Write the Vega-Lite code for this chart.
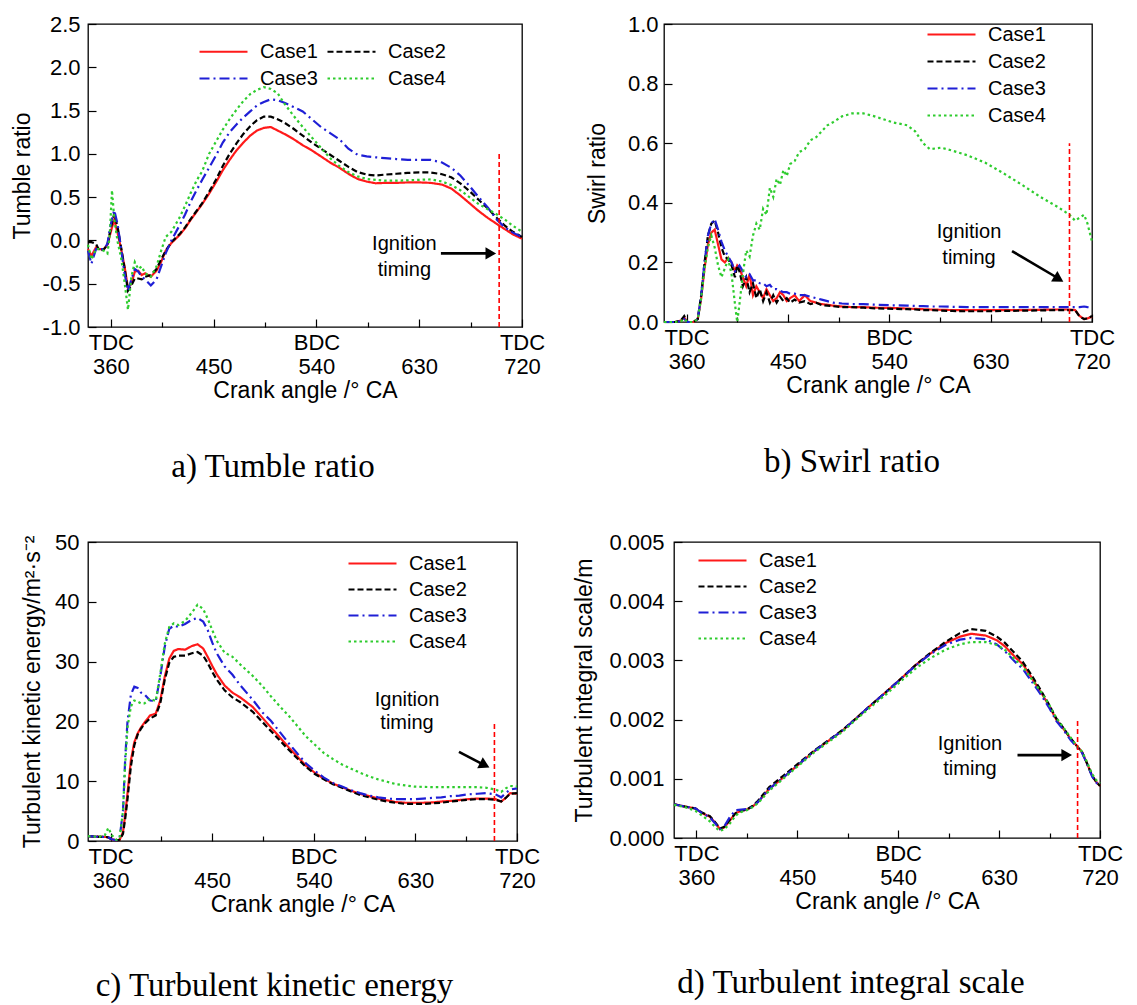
{
  "$schema": "https://vega.github.io/schema/vega-lite/v6.json",
  "background": "white",
  "padding": {"left": 10, "top": 12, "right": 0, "bottom": 0},
  "config": {
    "font": "Liberation Sans",
    "view": {"stroke": "black", "strokeWidth": 1.3},
    "axis": {"labelFont": "Liberation Sans", "labelFontSize": 22, "labelColor": "black", "titleFont": "Liberation Sans", "titleFontSize": 23, "titleFontWeight": "normal", "titleColor": "black", "domain": false, "grid": false, "tickColor": "black", "tickWidth": 1.2, "labelOverlap": false, "labelFlush": false},
    "legend": {"labelFont": "Liberation Sans", "labelFontSize": 20, "labelColor": "black"},
    "title": {"font": "Liberation Serif", "fontSize": 33, "fontWeight": "normal", "color": "black", "orient": "bottom", "anchor": "middle", "offset": 49},
    "text": {"font": "Liberation Sans", "fontSize": 20, "color": "black"}
  },
  "bounds": "flush",
  "spacing": 518,
  "resolve": {"scale": {"color": "independent", "strokeDash": "independent"}, "legend": {"color": "independent", "strokeDash": "independent"}},
  "vconcat": [
    {
      "bounds": "flush",
      "spacing": 142,
      "resolve": {"scale": {"color": "independent", "strokeDash": "independent"}, "legend": {"color": "independent", "strokeDash": "independent"}},
      "hconcat": [
        {
          "width": 434, "height": 303,
          "title": {"text": "a) Tumble ratio", "dx": -32},
          "layer": [
            {
              "data": {"values": [
                {"ca":340,"Case1":-0.10,"Case2":-0.02,"Case3":-0.12,"Case4":-0.05},
                {"ca":343,"Case1":-0.18,"Case2":-0.02,"Case3":-0.27,"Case4":-0.22},
                {"ca":347,"Case1":-0.08,"Case2":-0.04,"Case3":-0.10,"Case4":-0.10},
                {"ca":350,"Case1":-0.10,"Case2":-0.12,"Case3":-0.10,"Case4":-0.10},
                {"ca":354,"Case1":-0.10,"Case2":-0.10,"Case3":-0.10,"Case4":-0.12},
                {"ca":357,"Case1":-0.05,"Case2":-0.05,"Case3":-0.04,"Case4":-0.15},
                {"ca":359,"Case1":0.05,"Case2":0.08,"Case3":0.12,"Case4":0.05},
                {"ca":361,"Case1":0.15,"Case2":0.20,"Case3":0.25,"Case4":0.58},
                {"ca":363,"Case1":0.24,"Case2":0.31,"Case3":0.35,"Case4":0.25},
                {"ca":366,"Case1":0.08,"Case2":0.15,"Case3":0.18,"Case4":-0.02},
                {"ca":369,"Case1":-0.10,"Case2":-0.08,"Case3":-0.10,"Case4":-0.20},
                {"ca":372,"Case1":-0.30,"Case2":-0.32,"Case3":-0.38,"Case4":-0.48},
                {"ca":375,"Case1":-0.55,"Case2":-0.58,"Case3":-0.58,"Case4":-0.80},
                {"ca":378,"Case1":-0.50,"Case2":-0.52,"Case3":-0.45,"Case4":-0.42},
                {"ca":381,"Case1":-0.36,"Case2":-0.44,"Case3":-0.33,"Case4":-0.25},
                {"ca":384,"Case1":-0.35,"Case2":-0.44,"Case3":-0.36,"Case4":-0.33},
                {"ca":387,"Case1":-0.40,"Case2":-0.45,"Case3":-0.42,"Case4":-0.30},
                {"ca":390,"Case1":-0.38,"Case2":-0.42,"Case3":-0.45,"Case4":-0.38},
                {"ca":395,"Case1":-0.42,"Case2":-0.40,"Case3":-0.52,"Case4":-0.42},
                {"ca":400,"Case1":-0.35,"Case2":-0.33,"Case3":-0.45,"Case4":-0.30},
                {"ca":404,"Case1":-0.25,"Case2":-0.22,"Case3":-0.30,"Case4":-0.12},
                {"ca":408,"Case1":-0.12,"Case2":-0.12,"Case3":-0.15,"Case4":0.04},
                {"ca":413,"Case1":-0.03,"Case2":-0.02,"Case3":0.00,"Case4":0.10},
                {"ca":420,"Case1":0.06,"Case2":0.07,"Case3":0.17,"Case4":0.26},
                {"ca":425,"Case1":0.14,"Case2":0.15,"Case3":0.30,"Case4":0.40},
                {"ca":430,"Case1":0.24,"Case2":0.25,"Case3":0.45,"Case4":0.55},
                {"ca":435,"Case1":0.33,"Case2":0.34,"Case3":0.58,"Case4":0.69},
                {"ca":440,"Case1":0.42,"Case2":0.43,"Case3":0.70,"Case4":0.80},
                {"ca":446,"Case1":0.54,"Case2":0.56,"Case3":0.84,"Case4":1.00},
                {"ca":452,"Case1":0.67,"Case2":0.70,"Case3":0.98,"Case4":1.14},
                {"ca":458,"Case1":0.81,"Case2":0.86,"Case3":1.13,"Case4":1.28},
                {"ca":464,"Case1":0.93,"Case2":1.00,"Case3":1.25,"Case4":1.40},
                {"ca":470,"Case1":1.04,"Case2":1.12,"Case3":1.34,"Case4":1.51},
                {"ca":476,"Case1":1.13,"Case2":1.23,"Case3":1.42,"Case4":1.61},
                {"ca":482,"Case1":1.21,"Case2":1.32,"Case3":1.49,"Case4":1.69},
                {"ca":488,"Case1":1.27,"Case2":1.39,"Case3":1.56,"Case4":1.74},
                {"ca":494,"Case1":1.30,"Case2":1.43,"Case3":1.60,"Case4":1.77},
                {"ca":500,"Case1":1.31,"Case2":1.43,"Case3":1.63,"Case4":1.75},
                {"ca":506,"Case1":1.27,"Case2":1.40,"Case3":1.62,"Case4":1.70},
                {"ca":512,"Case1":1.23,"Case2":1.36,"Case3":1.59,"Case4":1.58},
                {"ca":520,"Case1":1.17,"Case2":1.29,"Case3":1.54,"Case4":1.44},
                {"ca":528,"Case1":1.10,"Case2":1.21,"Case3":1.49,"Case4":1.31},
                {"ca":536,"Case1":1.04,"Case2":1.13,"Case3":1.40,"Case4":1.19},
                {"ca":544,"Case1":0.97,"Case2":1.06,"Case3":1.31,"Case4":1.07},
                {"ca":552,"Case1":0.90,"Case2":0.99,"Case3":1.24,"Case4":0.95},
                {"ca":560,"Case1":0.84,"Case2":0.92,"Case3":1.17,"Case4":0.86},
                {"ca":568,"Case1":0.77,"Case2":0.85,"Case3":1.06,"Case4":0.79},
                {"ca":576,"Case1":0.71,"Case2":0.79,"Case3":0.99,"Case4":0.74},
                {"ca":584,"Case1":0.68,"Case2":0.76,"Case3":0.97,"Case4":0.71},
                {"ca":592,"Case1":0.66,"Case2":0.75,"Case3":0.96,"Case4":0.70},
                {"ca":600,"Case1":0.665,"Case2":0.76,"Case3":0.95,"Case4":0.69},
                {"ca":610,"Case1":0.665,"Case2":0.77,"Case3":0.94,"Case4":0.69},
                {"ca":620,"Case1":0.67,"Case2":0.78,"Case3":0.93,"Case4":0.695},
                {"ca":630,"Case1":0.67,"Case2":0.785,"Case3":0.93,"Case4":0.70},
                {"ca":640,"Case1":0.665,"Case2":0.785,"Case3":0.93,"Case4":0.705},
                {"ca":650,"Case1":0.645,"Case2":0.765,"Case3":0.90,"Case4":0.68},
                {"ca":658,"Case1":0.60,"Case2":0.73,"Case3":0.84,"Case4":0.64},
                {"ca":666,"Case1":0.52,"Case2":0.66,"Case3":0.75,"Case4":0.58},
                {"ca":674,"Case1":0.43,"Case2":0.57,"Case3":0.63,"Case4":0.50},
                {"ca":682,"Case1":0.34,"Case2":0.47,"Case3":0.50,"Case4":0.42},
                {"ca":690,"Case1":0.26,"Case2":0.37,"Case3":0.38,"Case4":0.36},
                {"ca":698,"Case1":0.19,"Case2":0.26,"Case3":0.24,"Case4":0.30},
                {"ca":705,"Case1":0.13,"Case2":0.17,"Case3":0.15,"Case4":0.24},
                {"ca":712,"Case1":0.07,"Case2":0.10,"Case3":0.09,"Case4":0.17},
                {"ca":720,"Case1":0.02,"Case2":0.04,"Case3":0.04,"Case4":0.10}
              ]},
              "transform": [{"fold": ["Case1","Case2","Case3","Case4"], "as": ["case","v"]}],
              "mark": {"type": "line", "strokeWidth": 2.2},
              "encoding": {
                "x": {"field": "ca", "type": "quantitative", "scale": {"domain": [340,720], "nice": false, "zero": false},
                  "axis": {"title": "Crank angle /° CA", "values": [360,405,450,495,540,585,630,675,720],
                    "labelExpr": "datum.value == 360 || datum.value == 720 ? ['TDC', datum.label] : datum.value == 540 ? ['BDC', datum.label] : datum.value % 90 == 0 ? ['', datum.label] : ''",
                    "tickSize": {"condition": {"test": "datum.value % 90 == 0", "value": -8}, "value": -5},
                    "labelPadding": 13, "labelLineHeight": 24, "labelBaseline": "top", "titlePadding": 2}},
                "y": {"field": "v", "type": "quantitative", "scale": {"domain": [-1,2.5], "nice": false, "zero": false},
                  "axis": {"title": "Tumble ratio", "values": [-1,-0.75,-0.5,-0.25,0,0.25,0.5,0.75,1,1.25,1.5,1.75,2,2.25,2.5],
                    "labelExpr": "(datum.value * 2) % 1 == 0 ? replace(format(datum.value, '.1f'), '\u2212', '-') : ''",
                    "tickSize": {"condition": {"test": "(datum.value * 2) % 1 == 0", "value": -8}, "value": -5},
                    "labelPadding": 16, "titlePadding": 8}},
                "color": {"field": "case", "type": "nominal", "scale": {"domain": ["Case1","Case2","Case3","Case4"], "range": ["#ff1a1a","#000000","#1f1fd6","#2ecc2e"]},
                  "legend": {"orient": "none", "legendX": 122, "legendY": 14, "columns": 2, "direction": "horizontal", "title": null, "symbolType": "M-2,0H2", "symbolSize": 576, "labelOffset": 23, "columnPadding": 5, "rowPadding": 3, "symbolStrokeWidth": 2.2}},
                "strokeDash": {"field": "case", "type": "nominal", "scale": {"domain": ["Case1","Case2","Case3","Case4"], "range": [[1,0],[6,3],[10,4,2,4],[2.5,3]]},
                  "legend": {"orient": "none", "legendX": 122, "legendY": 14, "columns": 2, "direction": "horizontal", "title": null, "symbolType": "M-2,0H2", "symbolSize": 576, "labelOffset": 23, "columnPadding": 5, "rowPadding": 3, "symbolStrokeWidth": 2.2}}
              }
            },
            {
              "data": {"values": [{"ca": 700, "v": -1, "v2": 1.0}]},
              "mark": {"type": "rule", "color": "#ff0000", "strokeDash": [5,3], "strokeWidth": 1.6},
              "encoding": {"x": {"field": "ca", "type": "quantitative"}, "y": {"field": "v", "type": "quantitative"}, "y2": {"field": "v2"}}
            },
            {
              "data": {"values": [{"ca": 649, "v": -0.15, "ca2": 690, "v2": -0.15}]},
              "mark": {"type": "rule", "color": "black", "strokeWidth": 2.6},
              "encoding": {"x": {"field": "ca", "type": "quantitative"}, "y": {"field": "v", "type": "quantitative"}, "x2": {"field": "ca2"}, "y2": {"field": "v2"}}
            },
            {
              "data": {"values": [{"ca": 692.7, "v": -0.15}]},
              "mark": {"type": "point", "shape": "triangle-right", "filled": true, "color": "black", "size": 150, "opacity": 1},
              "encoding": {"x": {"field": "ca", "type": "quantitative"}, "y": {"field": "v", "type": "quantitative"}}
            },
            {
              "data": {"values": [{"ca": 617, "v": -0.04, "t": "Ignition"}, {"ca": 617, "v": -0.34, "t": "timing"}]},
              "mark": {"type": "text", "align": "center", "baseline": "middle"},
              "encoding": {"x": {"field": "ca", "type": "quantitative"}, "y": {"field": "v", "type": "quantitative"}, "text": {"field": "t"}}
            }
          ]
        },
        {
          "width": 428, "height": 298,
          "title": {"text": "b) Swirl ratio", "dx": -26},
          "layer": [
            {
              "data": {"values": [
                {"ca":340,"Case1":0,"Case2":0,"Case3":0,"Case4":0},
                {"ca":350,"Case1":0,"Case2":0,"Case3":0,"Case4":0},
                {"ca":355,"Case1":0.005,"Case2":0.005,"Case3":0.003,"Case4":0.003},
                {"ca":358,"Case1":0.015,"Case2":0.02,"Case3":0.01,"Case4":0.01},
                {"ca":361,"Case1":0,"Case2":0,"Case3":0,"Case4":0},
                {"ca":366,"Case1":0,"Case2":0,"Case3":0,"Case4":0},
                {"ca":370,"Case1":0.01,"Case2":0.01,"Case3":0.01,"Case4":0.01},
                {"ca":373,"Case1":0.08,"Case2":0.09,"Case3":0.09,"Case4":0.08},
                {"ca":376,"Case1":0.18,"Case2":0.20,"Case3":0.20,"Case4":0.18},
                {"ca":379,"Case1":0.26,"Case2":0.29,"Case3":0.29,"Case4":0.25},
                {"ca":382,"Case1":0.30,"Case2":0.33,"Case3":0.33,"Case4":0.29},
                {"ca":385,"Case1":0.31,"Case2":0.34,"Case3":0.345,"Case4":0.25},
                {"ca":388,"Case1":0.26,"Case2":0.30,"Case3":0.31,"Case4":0.19},
                {"ca":391,"Case1":0.21,"Case2":0.25,"Case3":0.27,"Case4":0.15},
                {"ca":394,"Case1":0.20,"Case2":0.22,"Case3":0.24,"Case4":0.18},
                {"ca":397,"Case1":0.215,"Case2":0.21,"Case3":0.22,"Case4":0.21},
                {"ca":400,"Case1":0.20,"Case2":0.19,"Case3":0.20,"Case4":0.16},
                {"ca":403,"Case1":0.17,"Case2":0.15,"Case3":0.17,"Case4":0.06},
                {"ca":405,"Case1":0.19,"Case2":0.19,"Case3":0.18,"Case4":0.0},
                {"ca":407,"Case1":0.18,"Case2":0.17,"Case3":0.19,"Case4":0.06},
                {"ca":410,"Case1":0.15,"Case2":0.12,"Case3":0.17,"Case4":0.16},
                {"ca":413,"Case1":0.12,"Case2":0.15,"Case3":0.15,"Case4":0.24},
                {"ca":416,"Case1":0.16,"Case2":0.10,"Case3":0.16,"Case4":0.22},
                {"ca":419,"Case1":0.09,"Case2":0.13,"Case3":0.14,"Case4":0.29},
                {"ca":422,"Case1":0.12,"Case2":0.08,"Case3":0.14,"Case4":0.33},
                {"ca":425,"Case1":0.10,"Case2":0.11,"Case3":0.13,"Case4":0.31},
                {"ca":428,"Case1":0.08,"Case2":0.07,"Case3":0.13,"Case4":0.38},
                {"ca":431,"Case1":0.11,"Case2":0.10,"Case3":0.12,"Case4":0.36},
                {"ca":434,"Case1":0.09,"Case2":0.065,"Case3":0.125,"Case4":0.45},
                {"ca":437,"Case1":0.07,"Case2":0.09,"Case3":0.11,"Case4":0.42},
                {"ca":440,"Case1":0.08,"Case2":0.065,"Case3":0.11,"Case4":0.48},
                {"ca":443,"Case1":0.10,"Case2":0.085,"Case3":0.105,"Case4":0.46},
                {"ca":446,"Case1":0.09,"Case2":0.07,"Case3":0.10,"Case4":0.51},
                {"ca":449,"Case1":0.07,"Case2":0.08,"Case3":0.10,"Case4":0.49},
                {"ca":452,"Case1":0.08,"Case2":0.065,"Case3":0.095,"Case4":0.53},
                {"ca":456,"Case1":0.09,"Case2":0.075,"Case3":0.095,"Case4":0.54},
                {"ca":460,"Case1":0.07,"Case2":0.065,"Case3":0.09,"Case4":0.57},
                {"ca":465,"Case1":0.09,"Case2":0.07,"Case3":0.09,"Case4":0.58},
                {"ca":470,"Case1":0.07,"Case2":0.06,"Case3":0.085,"Case4":0.61},
                {"ca":475,"Case1":0.065,"Case2":0.065,"Case3":0.08,"Case4":0.62},
                {"ca":480,"Case1":0.06,"Case2":0.057,"Case3":0.075,"Case4":0.64},
                {"ca":485,"Case1":0.058,"Case2":0.055,"Case3":0.07,"Case4":0.66},
                {"ca":490,"Case1":0.055,"Case2":0.053,"Case3":0.065,"Case4":0.67},
                {"ca":498,"Case1":0.052,"Case2":0.05,"Case3":0.062,"Case4":0.69},
                {"ca":507,"Case1":0.05,"Case2":0.05,"Case3":0.06,"Case4":0.70},
                {"ca":517,"Case1":0.05,"Case2":0.048,"Case3":0.06,"Case4":0.70},
                {"ca":527,"Case1":0.048,"Case2":0.046,"Case3":0.058,"Case4":0.69},
                {"ca":543,"Case1":0.047,"Case2":0.044,"Case3":0.056,"Case4":0.67},
                {"ca":556,"Case1":0.045,"Case2":0.043,"Case3":0.055,"Case4":0.66},
                {"ca":563,"Case1":0.044,"Case2":0.042,"Case3":0.054,"Case4":0.64},
                {"ca":570,"Case1":0.043,"Case2":0.04,"Case3":0.053,"Case4":0.60},
                {"ca":576,"Case1":0.042,"Case2":0.04,"Case3":0.052,"Case4":0.58},
                {"ca":586,"Case1":0.041,"Case2":0.038,"Case3":0.052,"Case4":0.585},
                {"ca":596,"Case1":0.04,"Case2":0.037,"Case3":0.051,"Case4":0.575},
                {"ca":609,"Case1":0.04,"Case2":0.036,"Case3":0.05,"Case4":0.56},
                {"ca":625,"Case1":0.04,"Case2":0.036,"Case3":0.05,"Case4":0.535},
                {"ca":641,"Case1":0.04,"Case2":0.037,"Case3":0.05,"Case4":0.50},
                {"ca":658,"Case1":0.04,"Case2":0.038,"Case3":0.05,"Case4":0.46},
                {"ca":674,"Case1":0.041,"Case2":0.039,"Case3":0.05,"Case4":0.42},
                {"ca":690,"Case1":0.042,"Case2":0.04,"Case3":0.05,"Case4":0.385},
                {"ca":700,"Case1":0.042,"Case2":0.04,"Case3":0.05,"Case4":0.36},
                {"ca":705,"Case1":0.04,"Case2":0.04,"Case3":0.05,"Case4":0.34},
                {"ca":709,"Case1":0.02,"Case2":0.018,"Case3":0.05,"Case4":0.35},
                {"ca":713,"Case1":0.01,"Case2":0.01,"Case3":0.052,"Case4":0.36},
                {"ca":716,"Case1":0.012,"Case2":0.012,"Case3":0.05,"Case4":0.33},
                {"ca":720,"Case1":0.018,"Case2":0.02,"Case3":0.048,"Case4":0.27}
              ]},
              "transform": [{"fold": ["Case1","Case2","Case3","Case4"], "as": ["case","v"]}],
              "mark": {"type": "line", "strokeWidth": 2.2},
              "encoding": {
                "x": {"field": "ca", "type": "quantitative", "scale": {"domain": [340,720], "nice": false, "zero": false},
                  "axis": {"title": "Crank angle /° CA", "values": [360,405,450,495,540,585,630,675,720],
                    "labelExpr": "datum.value == 360 || datum.value == 720 ? ['TDC', datum.label] : datum.value == 540 ? ['BDC', datum.label] : datum.value % 90 == 0 ? ['', datum.label] : ''",
                    "tickSize": {"condition": {"test": "datum.value % 90 == 0", "value": -8}, "value": -5},
                    "labelPadding": 13, "labelLineHeight": 24, "labelBaseline": "top", "titlePadding": 2}},
                "y": {"field": "v", "type": "quantitative", "scale": {"domain": [0,1], "nice": false},
                  "axis": {"title": "Swirl ratio", "values": [0,0.1,0.2,0.3,0.4,0.5,0.6,0.7,0.8,0.9,1],
                    "labelExpr": "abs(datum.value * 5 - round(datum.value * 5)) < 0.001 ? format(datum.value, '.1f') : ''",
                    "tickSize": {"condition": {"test": "abs(datum.value * 5 - round(datum.value * 5)) < 0.001", "value": -8}, "value": -5},
                    "labelPadding": 14, "titlePadding": 18}},
                "color": {"field": "case", "type": "nominal", "scale": {"domain": ["Case1","Case2","Case3","Case4"], "range": ["#ff1a1a","#000000","#1f1fd6","#2ecc2e"]},
                  "legend": {"orient": "none", "legendX": 274, "legendY": -3, "columns": 1, "title": null, "symbolType": "M-2,0H2", "symbolSize": 576, "labelOffset": 23, "rowPadding": 3, "symbolStrokeWidth": 2.2}},
                "strokeDash": {"field": "case", "type": "nominal", "scale": {"domain": ["Case1","Case2","Case3","Case4"], "range": [[1,0],[6,3],[10,4,2,4],[2.5,3]]},
                  "legend": {"orient": "none", "legendX": 274, "legendY": -3, "columns": 1, "title": null, "symbolType": "M-2,0H2", "symbolSize": 576, "labelOffset": 23, "rowPadding": 3, "symbolStrokeWidth": 2.2}}
              }
            },
            {
              "data": {"values": [{"ca": 700, "v": 0, "v2": 0.6}]},
              "mark": {"type": "rule", "color": "#ff0000", "strokeDash": [5,3], "strokeWidth": 1.6},
              "encoding": {"x": {"field": "ca", "type": "quantitative"}, "y": {"field": "v", "type": "quantitative"}, "y2": {"field": "v2"}}
            },
            {
              "data": {"values": [{"ca": 649, "v": 0.238, "ca2": 688, "v2": 0.151}]},
              "mark": {"type": "rule", "color": "black", "strokeWidth": 2.6},
              "encoding": {"x": {"field": "ca", "type": "quantitative"}, "y": {"field": "v", "type": "quantitative"}, "x2": {"field": "ca2"}, "y2": {"field": "v2"}}
            },
            {
              "data": {"values": [{"ca": 690.5, "v": 0.1446}]},
              "mark": {"type": "point", "shape": "triangle-right", "filled": true, "color": "black", "size": 150, "opacity": 1, "angle": 31},
              "encoding": {"x": {"field": "ca", "type": "quantitative"}, "y": {"field": "v", "type": "quantitative"}}
            },
            {
              "data": {"values": [{"ca": 610.8, "v": 0.302, "t": "Ignition"}, {"ca": 610.8, "v": 0.215, "t": "timing"}]},
              "mark": {"type": "text", "align": "center", "baseline": "middle"},
              "encoding": {"x": {"field": "ca", "type": "quantitative"}, "y": {"field": "v", "type": "quantitative"}, "text": {"field": "t"}}
            }
          ]
        }
      ]
    },
    {
      "bounds": "flush",
      "spacing": 157,
      "resolve": {"scale": {"color": "independent", "strokeDash": "independent"}, "legend": {"color": "independent", "strokeDash": "independent"}},
      "hconcat": [
        {
          "width": 429, "height": 299,
          "title": {"text": "c) Turbulent kinetic energy", "dx": -28, "offset": 54},
          "layer": [
            {
              "data": {"values": [
                {"ca":340,"Case1":0.8,"Case2":0.8,"Case3":0.8,"Case4":0.8},
                {"ca":350,"Case1":0.7,"Case2":0.7,"Case3":0.7,"Case4":0.7},
                {"ca":355,"Case1":0.7,"Case2":0.7,"Case3":0.7,"Case4":1.0},
                {"ca":358,"Case1":0.6,"Case2":0.6,"Case3":0.6,"Case4":2.2},
                {"ca":361,"Case1":0.3,"Case2":0.3,"Case3":0.3,"Case4":1.0},
                {"ca":365,"Case1":0.1,"Case2":0.1,"Case3":0.1,"Case4":0.2},
                {"ca":368,"Case1":0.2,"Case2":0.2,"Case3":0.5,"Case4":0.5},
                {"ca":371,"Case1":1.5,"Case2":1.2,"Case3":5,"Case4":5},
                {"ca":373,"Case1":4.5,"Case2":3.8,"Case3":14,"Case4":13},
                {"ca":375,"Case1":8,"Case2":7,"Case3":20,"Case4":19},
                {"ca":378,"Case1":13.5,"Case2":12.5,"Case3":24.5,"Case4":22.5},
                {"ca":381,"Case1":16.5,"Case2":16,"Case3":25.8,"Case4":23.5},
                {"ca":384,"Case1":18,"Case2":17.8,"Case3":25.6,"Case4":23.3},
                {"ca":387,"Case1":19,"Case2":18.8,"Case3":24.8,"Case4":23},
                {"ca":390,"Case1":19.8,"Case2":19.6,"Case3":24.5,"Case4":23},
                {"ca":395,"Case1":21,"Case2":20.5,"Case3":23.5,"Case4":23.8},
                {"ca":400,"Case1":21.3,"Case2":21,"Case3":23.4,"Case4":23.4},
                {"ca":404,"Case1":23.5,"Case2":23,"Case3":27.5,"Case4":28},
                {"ca":408,"Case1":27.5,"Case2":27,"Case3":32.5,"Case4":33},
                {"ca":412,"Case1":30.5,"Case2":29.8,"Case3":35.5,"Case4":35.8},
                {"ca":416,"Case1":31.8,"Case2":30.8,"Case3":36,"Case4":36.4},
                {"ca":420,"Case1":32.1,"Case2":31,"Case3":35.8,"Case4":36.1},
                {"ca":426,"Case1":32,"Case2":31,"Case3":36.3,"Case4":36.8},
                {"ca":432,"Case1":32.6,"Case2":31.4,"Case3":37,"Case4":38.2},
                {"ca":437,"Case1":32.9,"Case2":31.6,"Case3":37.3,"Case4":39.5},
                {"ca":442,"Case1":32.2,"Case2":31,"Case3":36.7,"Case4":38.8},
                {"ca":446,"Case1":30.8,"Case2":29.8,"Case3":35.3,"Case4":37.2},
                {"ca":450,"Case1":29.3,"Case2":28.3,"Case3":33.2,"Case4":35.3},
                {"ca":454,"Case1":27.9,"Case2":27,"Case3":31.4,"Case4":33.5},
                {"ca":461,"Case1":26,"Case2":25.2,"Case3":29.2,"Case4":31.5},
                {"ca":468,"Case1":24.8,"Case2":24,"Case3":27.8,"Case4":30.8},
                {"ca":475,"Case1":24,"Case2":23.2,"Case3":26,"Case4":29.5},
                {"ca":486,"Case1":22.4,"Case2":21.6,"Case3":23.6,"Case4":27.6},
                {"ca":495,"Case1":20.5,"Case2":19.8,"Case3":21.4,"Case4":25.8},
                {"ca":502,"Case1":19,"Case2":18.4,"Case3":20.1,"Case4":24.2},
                {"ca":510,"Case1":17.3,"Case2":16.8,"Case3":18.2,"Case4":22.5},
                {"ca":518,"Case1":15.6,"Case2":15.2,"Case3":16.3,"Case4":20.9},
                {"ca":526,"Case1":14,"Case2":13.7,"Case3":14.5,"Case4":19.1},
                {"ca":533,"Case1":12.6,"Case2":12.4,"Case3":13,"Case4":17.5},
                {"ca":541,"Case1":11.4,"Case2":11.2,"Case3":11.7,"Case4":16.1},
                {"ca":549,"Case1":10.4,"Case2":10.3,"Case3":10.6,"Case4":14.7},
                {"ca":557,"Case1":9.6,"Case2":9.5,"Case3":9.7,"Case4":13.7},
                {"ca":565,"Case1":9,"Case2":8.9,"Case3":9.1,"Case4":12.8},
                {"ca":573,"Case1":8.4,"Case2":8.3,"Case3":8.5,"Case4":12.1},
                {"ca":581,"Case1":7.9,"Case2":7.7,"Case3":8,"Case4":11.4},
                {"ca":589,"Case1":7.5,"Case2":7.3,"Case3":7.6,"Case4":10.8},
                {"ca":597,"Case1":7.1,"Case2":6.9,"Case3":7.3,"Case4":10.3},
                {"ca":605,"Case1":6.8,"Case2":6.6,"Case3":7.1,"Case4":9.9},
                {"ca":613,"Case1":6.5,"Case2":6.4,"Case3":7,"Case4":9.5},
                {"ca":621,"Case1":6.4,"Case2":6.2,"Case3":7,"Case4":9.3},
                {"ca":629,"Case1":6.4,"Case2":6.2,"Case3":7,"Case4":9.1},
                {"ca":637,"Case1":6.4,"Case2":6.2,"Case3":7.1,"Case4":9.05},
                {"ca":645,"Case1":6.45,"Case2":6.3,"Case3":7.2,"Case4":9},
                {"ca":653,"Case1":6.6,"Case2":6.4,"Case3":7.3,"Case4":9},
                {"ca":661,"Case1":6.7,"Case2":6.6,"Case3":7.5,"Case4":9},
                {"ca":669,"Case1":6.85,"Case2":6.75,"Case3":7.6,"Case4":9},
                {"ca":677,"Case1":7,"Case2":6.9,"Case3":7.8,"Case4":9},
                {"ca":685,"Case1":7.1,"Case2":7,"Case3":7.9,"Case4":9},
                {"ca":693,"Case1":7.1,"Case2":7,"Case3":8,"Case4":8.9},
                {"ca":701,"Case1":7,"Case2":6.9,"Case3":7.8,"Case4":8.6},
                {"ca":706,"Case1":6.6,"Case2":6.6,"Case3":7.3,"Case4":8.2},
                {"ca":710,"Case1":7.2,"Case2":7.2,"Case3":8,"Case4":8.8},
                {"ca":714,"Case1":8,"Case2":7.9,"Case3":8.6,"Case4":9.2},
                {"ca":720,"Case1":7.9,"Case2":8,"Case3":8.8,"Case4":9.1}
              ]},
              "transform": [{"fold": ["Case1","Case2","Case3","Case4"], "as": ["case","v"]}],
              "mark": {"type": "line", "strokeWidth": 2.2},
              "encoding": {
                "x": {"field": "ca", "type": "quantitative", "scale": {"domain": [340,720], "nice": false, "zero": false},
                  "axis": {"title": "Crank angle /° CA", "values": [360,405,450,495,540,585,630,675,720],
                    "labelExpr": "datum.value == 360 || datum.value == 720 ? ['TDC', datum.label] : datum.value == 540 ? ['BDC', datum.label] : datum.value % 90 == 0 ? ['', datum.label] : ''",
                    "tickSize": {"condition": {"test": "datum.value % 90 == 0", "value": -8}, "value": -5},
                    "labelPadding": 13, "labelLineHeight": 24, "labelBaseline": "top", "titlePadding": 2}},
                "y": {"field": "v", "type": "quantitative", "scale": {"domain": [0,50], "nice": false},
                  "axis": {"title": "Turbulent kinetic energy/m²·s⁻²", "values": [0,5,10,15,20,25,30,35,40,45,50],
                    "labelExpr": "datum.value % 10 == 0 ? datum.label : ''",
                    "tickSize": {"condition": {"test": "datum.value % 10 == 0", "value": -8}, "value": -5},
                    "labelPadding": 17, "titlePadding": 10}},
                "color": {"field": "case", "type": "nominal", "scale": {"domain": ["Case1","Case2","Case3","Case4"], "range": ["#ff1a1a","#000000","#1f1fd6","#2ecc2e"]},
                  "legend": {"orient": "none", "legendX": 271, "legendY": 8, "columns": 1, "title": null, "symbolType": "M-2,0H2", "symbolSize": 576, "labelOffset": 23, "rowPadding": 2, "symbolStrokeWidth": 2.2}},
                "strokeDash": {"field": "case", "type": "nominal", "scale": {"domain": ["Case1","Case2","Case3","Case4"], "range": [[1,0],[6,3],[10,4,2,4],[2.5,3]]},
                  "legend": {"orient": "none", "legendX": 271, "legendY": 8, "columns": 1, "title": null, "symbolType": "M-2,0H2", "symbolSize": 576, "labelOffset": 23, "rowPadding": 2, "symbolStrokeWidth": 2.2}}
              }
            },
            {
              "data": {"values": [{"ca": 700, "v": 0, "v2": 20}]},
              "mark": {"type": "rule", "color": "#ff0000", "strokeDash": [5,3], "strokeWidth": 1.6},
              "encoding": {"x": {"field": "ca", "type": "quantitative"}, "y": {"field": "v", "type": "quantitative"}, "y2": {"field": "v2"}}
            },
            {
              "data": {"values": [{"ca": 668.6, "v": 14.9, "ca2": 689, "v2": 12.9}]},
              "mark": {"type": "rule", "color": "black", "strokeWidth": 2.6},
              "encoding": {"x": {"field": "ca", "type": "quantitative"}, "y": {"field": "v", "type": "quantitative"}, "x2": {"field": "ca2"}, "y2": {"field": "v2"}}
            },
            {
              "data": {"values": [{"ca": 691.4, "v": 12.68}]},
              "mark": {"type": "point", "shape": "triangle-right", "filled": true, "color": "black", "size": 150, "opacity": 1, "angle": 27},
              "encoding": {"x": {"field": "ca", "type": "quantitative"}, "y": {"field": "v", "type": "quantitative"}}
            },
            {
              "data": {"values": [{"ca": 622.6, "v": 23.6, "t": "Ignition"}, {"ca": 622.6, "v": 19.7, "t": "timing"}]},
              "mark": {"type": "text", "align": "center", "baseline": "middle"},
              "encoding": {"x": {"field": "ca", "type": "quantitative"}, "y": {"field": "v", "type": "quantitative"}, "text": {"field": "t"}}
            }
          ]
        },
        {
          "width": 426, "height": 296,
          "title": {"text": "d) Turbulent integral scale", "dx": -36, "offset": 54},
          "layer": [
            {
              "data": {"values": [
                {"ca":340,"Case1":0.00057,"Case2":0.00057,"Case3":0.00057,"Case4":0.00056},
                {"ca":350,"Case1":0.00053,"Case2":0.00053,"Case3":0.00053,"Case4":0.00052},
                {"ca":359,"Case1":0.00050,"Case2":0.00050,"Case3":0.00050,"Case4":0.00046},
                {"ca":365,"Case1":0.00042,"Case2":0.00043,"Case3":0.00042,"Case4":0.00038},
                {"ca":372,"Case1":0.00036,"Case2":0.00037,"Case3":0.00035,"Case4":0.00028},
                {"ca":377,"Case1":0.00025,"Case2":0.00026,"Case3":0.00024,"Case4":0.00018},
                {"ca":381,"Case1":0.00015,"Case2":0.00016,"Case3":0.00015,"Case4":0.00012},
                {"ca":385,"Case1":0.00018,"Case2":0.00019,"Case3":0.00020,"Case4":0.00015},
                {"ca":390,"Case1":0.00030,"Case2":0.00031,"Case3":0.00036,"Case4":0.00025},
                {"ca":395,"Case1":0.00042,"Case2":0.00042,"Case3":0.00047,"Case4":0.00038},
                {"ca":400,"Case1":0.00046,"Case2":0.00046,"Case3":0.00048,"Case4":0.00044},
                {"ca":405,"Case1":0.00048,"Case2":0.00048,"Case3":0.00049,"Case4":0.00047},
                {"ca":410,"Case1":0.00053,"Case2":0.00054,"Case3":0.00053,"Case4":0.00052},
                {"ca":415,"Case1":0.00061,"Case2":0.00063,"Case3":0.00061,"Case4":0.00059},
                {"ca":425,"Case1":0.00083,"Case2":0.00086,"Case3":0.00083,"Case4":0.00080},
                {"ca":438,"Case1":0.00103,"Case2":0.00106,"Case3":0.00103,"Case4":0.00101},
                {"ca":451,"Case1":0.00124,"Case2":0.00126,"Case3":0.00124,"Case4":0.00122},
                {"ca":464,"Case1":0.00145,"Case2":0.00146,"Case3":0.00145,"Case4":0.00143},
                {"ca":477,"Case1":0.00163,"Case2":0.00164,"Case3":0.00163,"Case4":0.00161},
                {"ca":490,"Case1":0.00181,"Case2":0.00182,"Case3":0.00181,"Case4":0.00179},
                {"ca":503,"Case1":0.00203,"Case2":0.00203,"Case3":0.00203,"Case4":0.00201},
                {"ca":516,"Case1":0.00225,"Case2":0.00225,"Case3":0.00225,"Case4":0.00222},
                {"ca":530,"Case1":0.00248,"Case2":0.00248,"Case3":0.00248,"Case4":0.00244},
                {"ca":543,"Case1":0.00270,"Case2":0.00270,"Case3":0.00270,"Case4":0.00266},
                {"ca":556,"Case1":0.00293,"Case2":0.00293,"Case3":0.00292,"Case4":0.00287},
                {"ca":569,"Case1":0.00312,"Case2":0.00313,"Case3":0.00311,"Case4":0.00304},
                {"ca":582,"Case1":0.00329,"Case2":0.00331,"Case3":0.00326,"Case4":0.00318},
                {"ca":595,"Case1":0.00340,"Case2":0.00346,"Case3":0.00335,"Case4":0.00327},
                {"ca":605,"Case1":0.00345,"Case2":0.00353,"Case3":0.00338,"Case4":0.00331},
                {"ca":618,"Case1":0.00342,"Case2":0.00350,"Case3":0.00336,"Case4":0.00331},
                {"ca":628,"Case1":0.00334,"Case2":0.00340,"Case3":0.00327,"Case4":0.00326},
                {"ca":635,"Case1":0.00324,"Case2":0.00330,"Case3":0.00316,"Case4":0.00318},
                {"ca":645,"Case1":0.00304,"Case2":0.00310,"Case3":0.00296,"Case4":0.00300},
                {"ca":651,"Case1":0.00294,"Case2":0.00298,"Case3":0.00286,"Case4":0.00290},
                {"ca":660,"Case1":0.00268,"Case2":0.00272,"Case3":0.00262,"Case4":0.00266},
                {"ca":668,"Case1":0.00244,"Case2":0.00247,"Case3":0.00240,"Case4":0.00245},
                {"ca":675,"Case1":0.00222,"Case2":0.00224,"Case3":0.00219,"Case4":0.00224},
                {"ca":681,"Case1":0.00200,"Case2":0.00202,"Case3":0.00198,"Case4":0.00203},
                {"ca":688,"Case1":0.00183,"Case2":0.00184,"Case3":0.00181,"Case4":0.00185},
                {"ca":694,"Case1":0.00167,"Case2":0.00168,"Case3":0.00165,"Case4":0.00169},
                {"ca":700,"Case1":0.00154,"Case2":0.00154,"Case3":0.00152,"Case4":0.00154},
                {"ca":704,"Case1":0.00145,"Case2":0.00145,"Case3":0.00144,"Case4":0.00146},
                {"ca":708,"Case1":0.00128,"Case2":0.00128,"Case3":0.00127,"Case4":0.00130},
                {"ca":713,"Case1":0.00105,"Case2":0.00105,"Case3":0.00104,"Case4":0.00108},
                {"ca":717,"Case1":0.00094,"Case2":0.00094,"Case3":0.00093,"Case4":0.00097},
                {"ca":720,"Case1":0.00088,"Case2":0.00088,"Case3":0.00087,"Case4":0.00092}
              ]},
              "transform": [{"fold": ["Case1","Case2","Case3","Case4"], "as": ["case","v"]}],
              "mark": {"type": "line", "strokeWidth": 2.2},
              "encoding": {
                "x": {"field": "ca", "type": "quantitative", "scale": {"domain": [340,720], "nice": false, "zero": false},
                  "axis": {"title": "Crank angle /° CA", "values": [360,405,450,495,540,585,630,675,720],
                    "labelExpr": "datum.value == 360 || datum.value == 720 ? ['TDC', datum.label] : datum.value == 540 ? ['BDC', datum.label] : datum.value % 90 == 0 ? ['', datum.label] : ''",
                    "tickSize": {"condition": {"test": "datum.value % 90 == 0", "value": -8}, "value": -5},
                    "labelPadding": 13, "labelLineHeight": 24, "labelBaseline": "top", "titlePadding": 2}},
                "y": {"field": "v", "type": "quantitative", "scale": {"domain": [0,0.005], "nice": false},
                  "axis": {"title": "Turbulent integral scale/m", "values": [0,0.0005,0.001,0.0015,0.002,0.0025,0.003,0.0035,0.004,0.0045,0.005],
                    "labelExpr": "abs(datum.value * 1000 - round(datum.value * 1000)) < 0.001 ? format(datum.value, '.3f') : ''",
                    "tickSize": {"condition": {"test": "abs(datum.value * 1000 - round(datum.value * 1000)) < 0.001", "value": -8}, "value": -5},
                    "labelPadding": 18, "titlePadding": 12}},
                "color": {"field": "case", "type": "nominal", "scale": {"domain": ["Case1","Case2","Case3","Case4"], "range": ["#ff1a1a","#000000","#1f1fd6","#2ecc2e"]},
                  "legend": {"orient": "none", "legendX": 35, "legendY": 5, "columns": 1, "title": null, "symbolType": "M-2,0H2", "symbolSize": 576, "labelOffset": 23, "rowPadding": 2, "symbolStrokeWidth": 2.2}},
                "strokeDash": {"field": "case", "type": "nominal", "scale": {"domain": ["Case1","Case2","Case3","Case4"], "range": [[1,0],[6,3],[10,4,2,4],[2.5,3]]},
                  "legend": {"orient": "none", "legendX": 35, "legendY": 5, "columns": 1, "title": null, "symbolType": "M-2,0H2", "symbolSize": 576, "labelOffset": 23, "rowPadding": 2, "symbolStrokeWidth": 2.2}}
              }
            },
            {
              "data": {"values": [{"ca": 700, "v": 0, "v2": 0.002}]},
              "mark": {"type": "rule", "color": "#ff0000", "strokeDash": [5,3], "strokeWidth": 1.6},
              "encoding": {"x": {"field": "ca", "type": "quantitative"}, "y": {"field": "v", "type": "quantitative"}, "y2": {"field": "v2"}}
            },
            {
              "data": {"values": [{"ca": 646.4, "v": 0.0014, "ca2": 688, "v2": 0.0014}]},
              "mark": {"type": "rule", "color": "black", "strokeWidth": 2.6},
              "encoding": {"x": {"field": "ca", "type": "quantitative"}, "y": {"field": "v", "type": "quantitative"}, "x2": {"field": "ca2"}, "y2": {"field": "v2"}}
            },
            {
              "data": {"values": [{"ca": 690.3, "v": 0.0014}]},
              "mark": {"type": "point", "shape": "triangle-right", "filled": true, "color": "black", "size": 150, "opacity": 1},
              "encoding": {"x": {"field": "ca", "type": "quantitative"}, "y": {"field": "v", "type": "quantitative"}}
            },
            {
              "data": {"values": [{"ca": 604, "v": 0.00159, "t": "Ignition"}, {"ca": 604, "v": 0.001166, "t": "timing"}]},
              "mark": {"type": "text", "align": "center", "baseline": "middle"},
              "encoding": {"x": {"field": "ca", "type": "quantitative"}, "y": {"field": "v", "type": "quantitative"}, "text": {"field": "t"}}
            }
          ]
        }
      ]
    }
  ]
}
